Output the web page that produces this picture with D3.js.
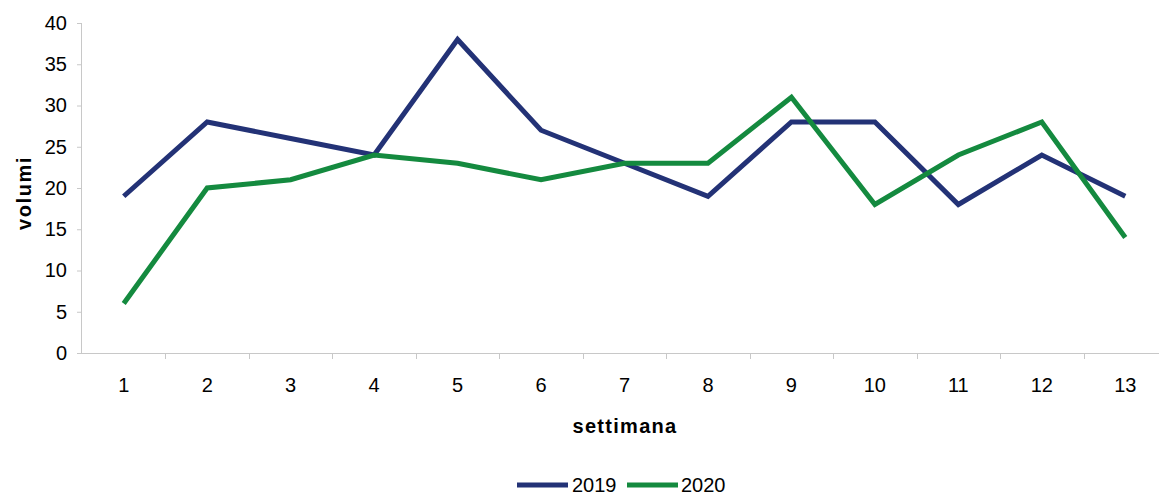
<!DOCTYPE html>
<html><head><meta charset="utf-8">
<script src="https://cdn.jsdelivr.net/npm/d3@7"></script>
<style>body{margin:0;background:#fff;} svg{display:block;}</style>
</head><body>
<script>
const weeks = ["1","2","3","4","5","6","7","8","9","10","11","12","13"];
const v2019 = [19, 28, 26, 24, 38, 27, 23, 19, 28, 28, 18, 24, 19];
const v2020 = [6, 20, 21, 24, 23, 21, 23, 23, 31, 18, 24, 28, 14];
const yTicks = [0, 5, 10, 15, 20, 25, 30, 35, 40];
const seriesNames = ["2019", "2020"];
const colors = ["#233276", "#148a3f"];

const W = 1159, H = 497;
const svg = d3.select("body").append("svg").attr("width", W).attr("height", H)
  .style("font-family", "'Liberation Sans', Arial, sans-serif");

const x = d3.scaleBand().domain(weeks).range([82, 1167]);
const y = d3.scaleLinear().domain([0, 40]).range([353, 23]);

// y axis
const ya = svg.append("g").attr("transform", "translate(82,0)")
  .call(d3.axisLeft(y).tickValues(yTicks).tickSize(5).tickPadding(10));
ya.select(".domain").attr("stroke", "#c8c8c8").attr("d", "M-0.5,23V353.5");
ya.selectAll(".tick line").attr("stroke", "#c8c8c8");
ya.selectAll(".tick text").attr("font-size", 20).attr("fill", "#000")
  .attr("font-family", "'Liberation Sans', Arial, sans-serif");

// x axis
const xa = svg.append("g").attr("transform", "translate(0,353)");
xa.append("line").attr("x1", 82).attr("x2", 1167).attr("y1", 0.5).attr("y2", 0.5).attr("stroke", "#c8c8c8");
xa.selectAll("line.t").data(weeks.slice(1)).join("line").attr("class", "t")
  .attr("x1", d => Math.round(x(d)) + 0.5).attr("x2", d => Math.round(x(d)) + 0.5)
  .attr("y1", 0).attr("y2", 6).attr("stroke", "#c8c8c8");
xa.selectAll("text").data(weeks).join("text")
  .attr("x", d => x(d) + x.bandwidth() / 2).attr("y", 39)
  .attr("text-anchor", "middle").attr("font-size", 20).text(d => d);

// axis titles
svg.append("text").attr("x", 625).attr("y", 433).attr("text-anchor", "middle")
  .attr("font-size", 20).attr("font-weight", "bold").attr("letter-spacing", 1.3).text("settimana");
svg.append("text").attr("transform", "translate(31,193) rotate(-90)").attr("text-anchor", "middle")
  .attr("font-size", 20).attr("font-weight", "bold").attr("letter-spacing", 1.6).text("volumi");

// lines
const line = d3.line().x((d, i) => x(weeks[i]) + x.bandwidth() / 2).y(d => y(d));
[v2019, v2020].forEach((vals, k) => {
  svg.append("path").datum(vals).attr("d", line).attr("fill", "none")
    .attr("stroke", colors[k]).attr("stroke-width", 5).attr("stroke-linejoin", "miter");
});

// legend
const leg = [{x: 517, tx: 572}, {x: 627, tx: 681}];
seriesNames.forEach((n, k) => {
  svg.append("line").attr("x1", leg[k].x).attr("x2", leg[k].x + 51).attr("y1", 485).attr("y2", 485)
    .attr("stroke", colors[k]).attr("stroke-width", 5);
  svg.append("text").attr("x", leg[k].tx).attr("y", 492).attr("font-size", 20).text(n);
});
</script>
</body></html>
